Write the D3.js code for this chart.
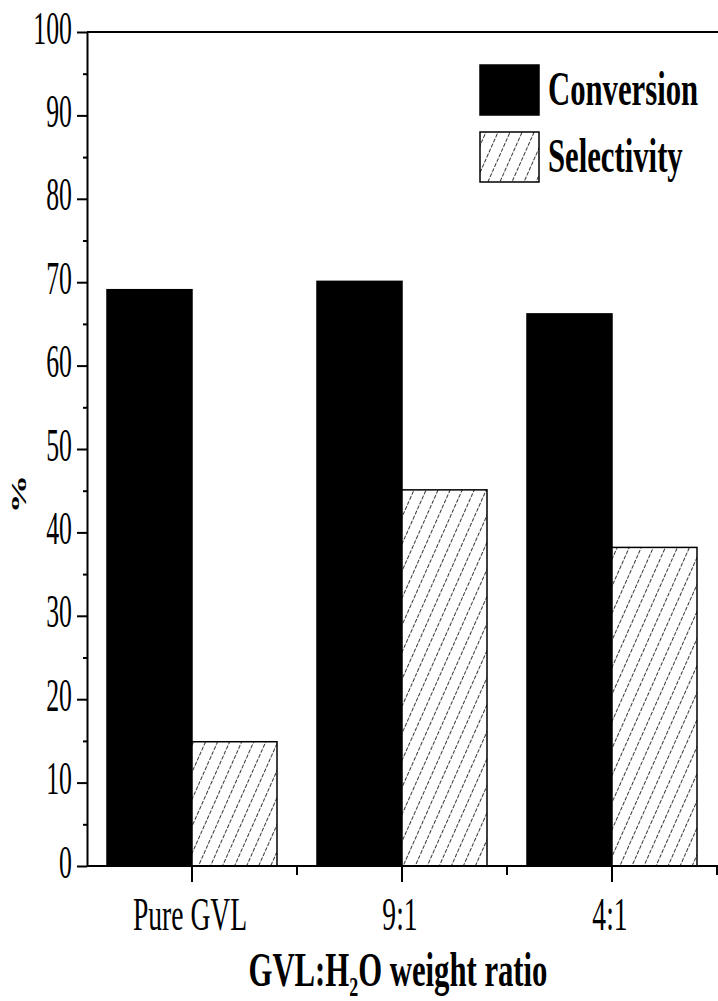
<!DOCTYPE html>
<html>
<head>
<meta charset="utf-8">
<script src="https://cdn.jsdelivr.net/npm/d3@7"></script>
<style>
body { margin: 0; background: #fff; }
text { font-family: "Liberation Serif", "Times New Roman", serif; fill: #000; }
</style>
</head>
<body>
<script>
const categories = ['Pure GVL', '9:1', '4:1']
const series = ['Conversion', 'Selectivity']
const conversion = [69.1, 70.1, 66.2]
const selectivity = [14.9, 45.1, 38.2]
const yTicks = [0, 10, 20, 30, 40, 50, 60, 70, 80, 90, 100]
const yMinorTicks = [5, 15, 25, 35, 45, 55, 65, 75, 85, 95]

const width = 718
const height = 1001
const plot = { left: 87, right: 717, top: 32, bottom: 866 }
const barW = 85

const x = d3.scaleBand()
	.domain(categories)
	.range([plot.left, plot.right])

const xs = d3.scaleBand()
	.domain(series)
	.range([-barW, barW])

const y = d3.scaleLinear()
	.domain([0, 100])
	.range([plot.bottom, plot.top])

const svg = d3.select('body').append('svg')
	.attr('width', width)
	.attr('height', height)

// hatch for selectivity bars
const pat = svg.append('defs').append('pattern')
	.attr('id', 'hatch')
	.attr('patternUnits', 'userSpaceOnUse')
	.attr('width', 11)
	.attr('height', 11)
	.attr('patternTransform', 'rotate(24)')
pat.append('rect').attr('width', 11).attr('height', 11).attr('fill', '#fff')
pat.append('line')
	.attr('x1', 5.5).attr('y1', 0).attr('x2', 5.5).attr('y2', 11)
	.attr('stroke', '#000')
	.attr('stroke-width', 0.8)
	.attr('stroke-dasharray', '4 1.5')

const rows = categories.flatMap((c, i) => [
	{ cat: c, s: 'Conversion', v: conversion[i] },
	{ cat: c, s: 'Selectivity', v: selectivity[i] }
])

const cx = c => x(c) + x.bandwidth() / 2

svg.selectAll('.bar')
		.data(rows)
	.enter().append('rect')
		.attr('class', 'bar')
		.attr('x', d => cx(d.cat) + xs(d.s))
		.attr('y', d => y(d.v))
		.attr('width', xs.bandwidth())
		.attr('height', d => y(0) - y(d.v))
		.attr('fill', d => d.s === 'Conversion' ? '#000' : 'url(#hatch)')
		.attr('stroke', '#000')
		.attr('stroke-width', 1.5)

// top frame line
svg.append('line')
	.attr('x1', plot.left).attr('x2', width)
	.attr('y1', plot.top).attr('y2', plot.top)
	.attr('stroke', '#000').attr('stroke-width', 2)

// y axis
const yAxis = svg.append('g')
	.attr('transform', `translate(${plot.left},0)`)
	.call(d3.axisLeft(y).tickValues(yTicks).tickSize(10).tickSizeOuter(0))
yAxis.select('.domain').attr('stroke-width', 2)
yAxis.selectAll('.tick line').attr('stroke-width', 2)
yAxis.selectAll('.tick text')
	.attr('x', null).attr('dy', null)
	.attr('font-size', 46)
	.attr('font-family', 'Liberation Serif')
	.attr('transform', 'translate(-15,11) scale(0.56,1)')

svg.append('g')
	.attr('transform', `translate(${plot.left},0)`)
	.call(d3.axisLeft(y).tickValues(yMinorTicks).tickSize(4).tickFormat(''))
	.call(g => g.select('.domain').remove())
	.selectAll('.tick line').attr('stroke-width', 2)

// x axis
const xAxis = svg.append('g')
	.attr('transform', `translate(0,${plot.bottom})`)
	.call(d3.axisBottom(x).tickSize(16).tickSizeOuter(0))
xAxis.select('.domain').attr('stroke-width', 2).attr('d', `M${plot.left},0H${width}`)
xAxis.selectAll('.tick line').attr('stroke-width', 2)
xAxis.selectAll('.tick text')
	.attr('y', null).attr('dy', null)
	.attr('font-size', 46)
	.attr('font-family', 'Liberation Serif')
	.attr('transform', 'translate(-2,64) scale(0.6,1)')

svg.append('g')
	.selectAll('line')
	.data(categories)
	.enter().append('line')
		.attr('x1', d => x(d) + x.bandwidth())
		.attr('x2', d => x(d) + x.bandwidth())
		.attr('y1', plot.bottom)
		.attr('y2', plot.bottom + 9)
		.attr('stroke', '#000')
		.attr('stroke-width', 2)

// axis titles
const xt = svg.append('text')
	.attr('text-anchor', 'middle')
	.attr('font-size', 48)
	.attr('font-weight', 'bold')
	.attr('transform', 'translate(398,986) scale(0.64,1)')
xt.append('tspan').text('GVL:H')
xt.append('tspan').attr('font-size', 28).attr('dy', 10).text('2')
xt.append('tspan').attr('dy', -10).text('O weight ratio')

svg.append('text')
	.attr('text-anchor', 'middle')
	.attr('font-size', 30)
	.attr('font-weight', 'bold')
	.attr('transform', 'translate(26,494) rotate(-90) scale(1.3,0.7)')
	.text('%')

// legend
const legend = svg.append('g')
	.selectAll('g')
	.data(series)
	.enter().append('g')
		.attr('transform', (d, i) => `translate(480,${65 + i * 67})`)

legend.append('rect')
	.attr('width', 59)
	.attr('height', 50)
	.attr('fill', d => d === 'Conversion' ? '#000' : 'url(#hatch)')
	.attr('stroke', '#000')
	.attr('stroke-width', 1.5)

legend.append('text')
	.attr('font-size', 48)
	.attr('font-weight', 'bold')
	.attr('transform', 'translate(68,40) scale(0.64,1)')
	.text(d => d)
</script>
</body>
</html>
